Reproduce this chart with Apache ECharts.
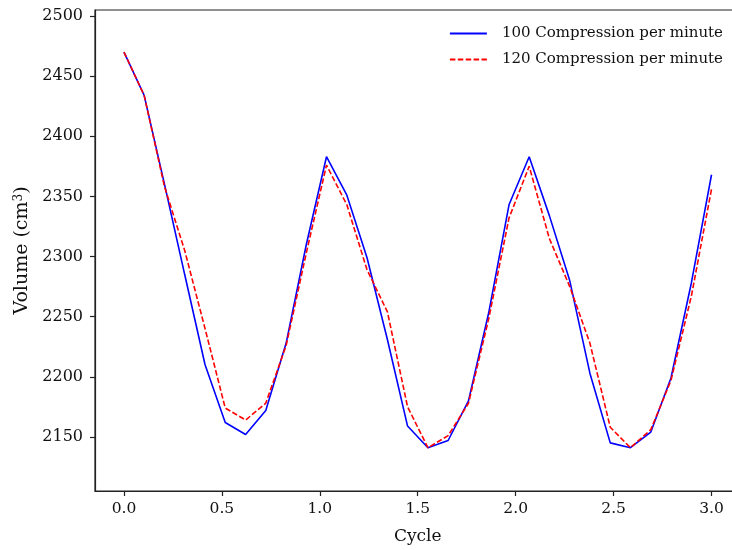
<!DOCTYPE html>
<html>
<head>
<meta charset="utf-8">
<script src="https://cdn.jsdelivr.net/npm/echarts@6/dist/echarts.min.js"></script>
<style>html,body{margin:0;padding:0;background:#fff;overflow:hidden;width:732px;height:550px}#c{width:741px;height:550px}</style>
</head>
<body>
<div id="c"></div>
<script>
var cycles = [0, 0.103, 0.207, 0.310, 0.414, 0.517, 0.621, 0.724, 0.828, 0.931,
  1.034, 1.138, 1.241, 1.345, 1.448, 1.552, 1.655, 1.759, 1.862, 1.966,
  2.069, 2.172, 2.276, 2.379, 2.483, 2.586, 2.690, 2.793, 2.897, 3.0];
var vol100 = [2470, 2434, 2360, 2285, 2210, 2162, 2152, 2172, 2228, 2310,
  2383, 2351, 2299, 2231, 2159, 2141, 2147, 2180, 2253, 2343,
  2383, 2334, 2280, 2203, 2145, 2141, 2154, 2199, 2278, 2368];
var vol120 = [2470, 2434, 2358, 2305, 2240, 2174, 2164, 2178, 2226, 2303,
  2376, 2343, 2289, 2254, 2175, 2141, 2151, 2178, 2248, 2332,
  2375, 2315, 2275, 2228, 2158, 2141, 2156, 2197, 2267, 2356];
var xTicks = [0, 0.5, 1.0, 1.5, 2.0, 2.5, 3.0];
var yTicks = [2150, 2200, 2250, 2300, 2350, 2400, 2450, 2500];
var seriesNames = ['100 Compression per minute', '120 Compression per minute'];

function pairs(xs, ys) { return xs.map(function (x, i) { return [x, ys[i]]; }); }

var font = 'DejaVu Serif';
var chart = echarts.init(document.getElementById('c'), null, {renderer: 'canvas'});
chart.setOption({
  animation: false,
  backgroundColor: '#fff',
  textStyle: {fontFamily: font},
  grid: {left: 95, top: 10, right: 0.5, bottom: 58.5, show: true, borderColor: '#222', borderWidth: 1.2, backgroundColor: 'transparent'},
  legend: {
    orient: 'vertical', right: 13, top: 21, itemWidth: 37, itemHeight: 12, itemGap: 11,
    itemStyle: {opacity: 0},
    textStyle: {fontFamily: font, fontSize: 15, color: '#111', padding: [0, 0, 0, 10]},
    data: seriesNames
  },
  xAxis: {
    type: 'value', min: -0.148, max: 3.148,
    name: 'Cycle', nameLocation: 'middle', nameGap: 37,
    nameTextStyle: {fontFamily: font, fontSize: 17, color: '#111'},
    axisLine: {show: true, onZero: false, lineStyle: {color: '#222', width: 1.2}},
    axisTick: {show: true, length: 5, lineStyle: {color: '#222', width: 1.2}, customValues: xTicks},
    axisLabel: {customValues: xTicks, margin: 10, fontFamily: font, fontSize: 15.5, color: '#111',
      formatter: function (v) { return v.toFixed(1); }},
    splitLine: {show: false}
  },
  yAxis: {
    type: 'value', min: 2105, max: 2505,
    name: 'Volume (cm{sup|3})', nameLocation: 'middle', nameGap: 62,
    nameTextStyle: {fontFamily: font, fontSize: 19, color: '#111',
      rich: {sup: {fontFamily: font, fontSize: 12, color: '#111', verticalAlign: 'top', padding: [0, 0, 6, 0]}}},
    axisLine: {show: true, onZero: false, lineStyle: {color: '#222', width: 1.2}},
    axisTick: {show: true, length: 5, lineStyle: {color: '#222', width: 1.2}, customValues: yTicks},
    axisLabel: {customValues: yTicks, margin: 12, fontFamily: font, fontSize: 16, color: '#111',
      formatter: function (v) { return String(v); }},
    splitLine: {show: false}
  },
  series: [
    {name: seriesNames[0], type: 'line', data: pairs(cycles, vol100), symbol: 'none',
      lineStyle: {color: '#0000ff', width: 1.6}, itemStyle: {color: '#0000ff'}},
    {name: seriesNames[1], type: 'line', data: pairs(cycles, vol120), symbol: 'none',
      lineStyle: {color: '#ff0000', width: 1.6, type: [5.5, 2.4]}, itemStyle: {color: '#ff0000'}}
  ]
});
</script>
</body>
</html>
